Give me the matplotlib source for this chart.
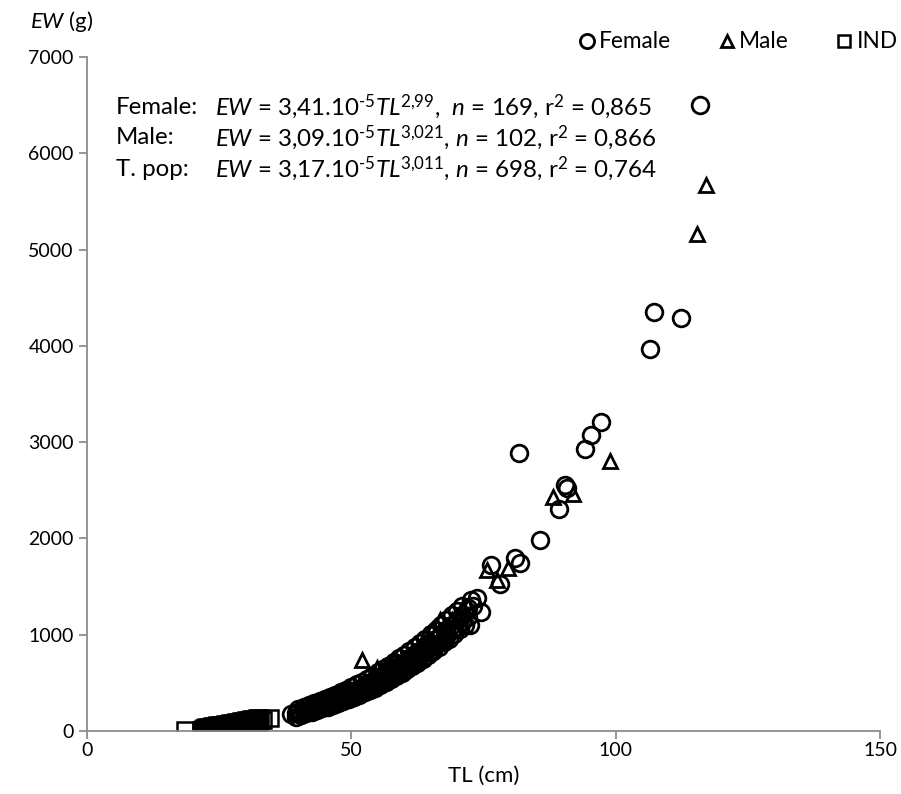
import numpy as np
import matplotlib.pyplot as plt

plt.rcParams['font.family'] = ['Lato', 'DejaVu Sans']
plt.rcParams['mathtext.fontset'] = 'custom'
plt.rcParams['mathtext.rm'] = 'Lato'
plt.rcParams['mathtext.it'] = 'Lato:italic'

# Female: total length (cm) and eviscerated weight (g)
female_tl = [38.5, 39.5, 41, 42, 43, 43.5, 44, 45, 45.5, 46, 47, 47.5, 48, 49, 49.5,
             50, 51, 51.5, 52, 53, 53.5, 54, 55, 55.5, 56, 57, 57.5, 58, 58.5, 59,
             60, 60.5, 61, 61.5, 62, 63, 63.5, 64, 65, 65.5, 66, 67, 67.5, 68, 69,
             70, 71, 72, 72.4, 72.7, 73, 73.7, 74.6, 76.5, 78.1, 81.0, 81.9, 81.7,
             85.7, 89.3, 90.4, 90.7, 94.2, 95.4, 97.3, 106.5, 107.2, 112.3, 116.0,
             40, 40.5, 41.5, 42.5, 43, 44.5, 45, 46, 46.5, 47, 48, 48.5, 49, 50, 50.5,
             51, 52, 52.5, 53, 54, 54.5, 55, 56, 56.5, 57, 58, 59, 59.5, 60, 61,
             62, 62.5, 63, 64, 64.5, 65, 66, 66.5, 67, 68, 69, 70, 71, 72,
             39.5, 40.5, 41.5, 42.5, 43.5, 44.5, 45.5, 46.5, 47.5, 48.5, 49.5, 50.5,
             51.5, 52.5, 53.5, 54.5, 55.5, 56.5, 57.5, 58.5, 59.5, 60.5, 61.5, 62.5,
             63.5, 64.5, 65.5, 66.5, 67.5, 68.5, 69.5, 70.5, 71.5,
             40, 41, 42, 43, 44, 45, 46, 47, 48, 49, 50, 51, 52, 53, 54, 55,
             56, 57, 58, 59, 60, 61, 62, 63, 64, 65, 66, 67, 68, 69, 70, 71]
female_ew = [175, 190, 200, 230, 250, 270, 245, 290, 280, 310, 320, 345, 330, 370, 355,
             390, 400, 430, 420, 470, 450, 500, 520, 560, 540, 600, 580, 640, 700, 620,
             680, 720, 760, 700, 790, 820, 760, 880, 900, 850, 960, 1000, 950, 1050, 1100,
             1150, 1200, 1280, 1100, 1360, 1300, 1380, 1240, 1720, 1530, 1800, 1750, 2890,
             1980, 2310, 2550, 2520, 2930, 3070, 3210, 3970, 4350, 4290, 6500,
             200, 180, 215, 220, 260, 270, 300, 290, 330, 300, 350, 380, 340, 420, 380,
             370, 450, 480, 430, 470, 540, 490, 580, 620, 550, 600, 680, 650, 620, 700,
             740, 820, 780, 820, 900, 820, 900, 980, 920, 980, 1050, 1080, 1130, 1180,
             150, 165, 185, 200, 215, 235, 250, 270, 290, 310, 330, 350,
             375, 400, 425, 450, 480, 505, 540, 570, 600, 640, 670, 710,
             750, 790, 830, 870, 920, 960, 1010, 1060, 1100,
             230, 250, 265, 290, 310, 330, 355, 375, 400, 430, 455, 485, 510, 545, 575, 610,
             640, 680, 715, 755, 790, 830, 875, 915, 960, 1010, 1050, 1100, 1150, 1200, 1250, 1300]

# Male
male_tl = [45, 48, 50, 52.0, 53, 54.9, 55, 57, 58, 60, 62, 63, 64, 65.2, 66, 66.8,
           68, 69, 70, 71, 72, 75.6, 77.5, 79.7, 88.2, 92.0, 99.0, 115.4, 117.1,
           47, 51, 56, 59, 61, 64.5, 67.5, 70.5]
male_ew = [300, 350, 380, 740, 470, 650, 520, 570, 620, 700, 750, 830, 980, 1050, 1020, 1150,
           1000, 1150, 1180, 1250, 1300, 1670, 1570, 1690, 2430, 2460, 2800, 5160, 5670,
           330, 420, 560, 640, 730, 930, 1080, 1200]

# Indeterminate
ind_tl = [18.5, 21.5, 22, 22.5, 23, 23.5, 24, 24.5, 25, 25.5, 26, 26.5, 27, 27.5,
          28, 28.5, 29, 29.5, 30, 30.5, 31, 31.5, 32, 32.3, 34.6,
          21.8, 22.3, 22.8, 23.3, 23.8, 24.3, 24.8, 25.3, 25.8, 26.3, 26.8, 27.3,
          27.8, 28.3, 28.8, 29.3, 29.8, 30.3, 30.8, 31.3, 31.8, 32.8, 33.3,
          22.1, 22.6, 23.1, 23.6, 24.1, 24.6, 25.1, 25.6, 26.1, 26.6, 27.1, 27.6,
          28.1, 28.6, 29.1, 29.6, 30.1, 30.6, 31.1, 31.6, 32.1, 32.6]
ind_ew = [10, 15, 20, 25, 30, 35, 35, 40, 45, 45, 50, 55, 55, 60,
          65, 70, 75, 80, 85, 90, 95, 100, 110, 85, 135,
          10, 15, 20, 25, 25, 30, 35, 35, 40, 45, 45, 50,
          55, 60, 60, 65, 70, 75, 80, 85, 90, 105, 110,
          35, 40, 45, 50, 55, 60, 60, 65, 70, 75, 80, 85,
          90, 95, 100, 105, 110, 115, 120, 125, 130, 135]

fig = plt.figure(figsize=(9.01, 7.94), dpi=100)
ax = fig.add_axes([87 / 901, 1 - 731 / 794, (880 - 87) / 901, (731 - 57) / 794])

ax.plot(female_tl, female_ew, 'o', mfc='none', mec='black', mew=2.0, ms=12, label='Female')
ax.plot(male_tl, male_ew, '^', mfc='none', mec='black', mew=2.0, ms=10, label='Male')
ax.plot(ind_tl, ind_ew, 's', mfc='none', mec='black', mew=1.8, ms=11, label='IND')

ax.set_xlim(0, 150)
ax.set_ylim(0, 7000)
ax.set_xticks([0, 50, 100, 150])
ax.set_yticks(np.arange(0, 7001, 1000))
for s in ['top', 'right']:
    ax.spines[s].set_visible(False)
for s in ['left', 'bottom']:
    ax.spines[s].set_color('#8c8c8c')
    ax.spines[s].set_linewidth(1.3)
ax.tick_params(colors='#8c8c8c', labelcolor='black', labelsize=14, length=6, width=1.3)
ax.tick_params(axis='x', pad=2)

ax.set_xlabel('TL (cm)', fontsize=16, labelpad=5)
fig.text(30 / 901, 1 - 22 / 794, r'$\it{EW}$ (g)', fontsize=16, va='center', ha='left')

# Equations
labels = ['Female:', 'Male:', 'T. pop:']
eqs = [r'$\it{EW}$ = 3,41.10$^{\text{-}5}$$\it{TL}$$^{2{,}99}$,  $\it{n}$ = 169, r$^2$ = 0,865',
       r'$\it{EW}$ = 3,09.10$^{\text{-}5}$$\it{TL}$$^{3{,}021}$, $\it{n}$ = 102, r$^2$ = 0,866',
       r'$\it{EW}$ = 3,17.10$^{\text{-}5}$$\it{TL}$$^{3{,}011}$, $\it{n}$ = 698, r$^2$ = 0,764']
ys = [107, 138, 169]
for lab, eq, yy in zip(labels, eqs, ys):
    fig.text(116 / 901, 1 - yy / 794, lab, fontsize=17.3, va='center', ha='left')
    fig.text(215 / 901, 1 - yy / 794, eq, fontsize=17.4, va='center', ha='left')

leg = fig.legend(loc='center right', bbox_to_anchor=(898 / 901, 1 - 42 / 794), ncol=3,
                 frameon=False, fontsize=16.3, handletextpad=0.15, handlelength=0.8,
                 columnspacing=2.05, markerscale=0.85, borderpad=0, borderaxespad=0)

fig.savefig('out.png', dpi=100)
